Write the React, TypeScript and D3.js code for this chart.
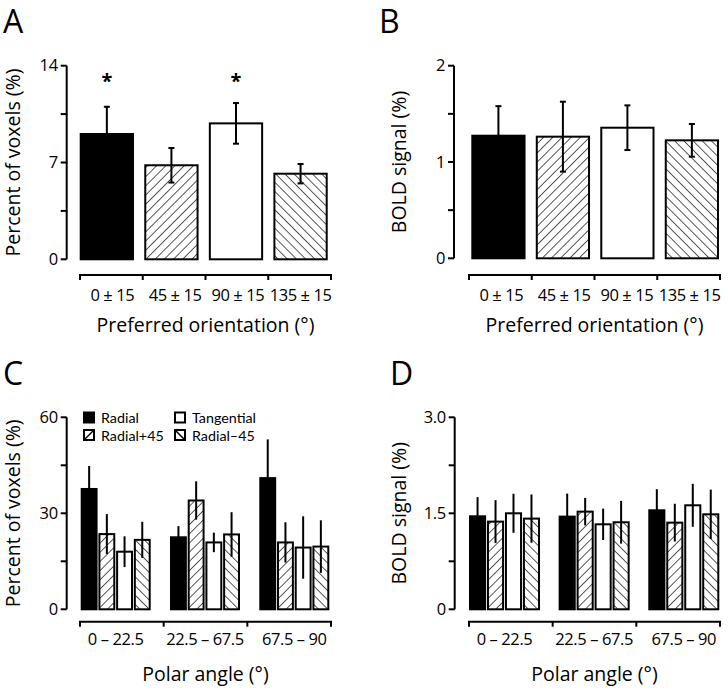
import React from "react";
import * as d3 from "d3";

// ---------- DATA ----------
const orientationCats = ["0 ± 15", "45 ± 15", "90 ± 15", "135 ± 15"];
const voxelPctByOri = [9.06, 6.8, 9.83, 6.19];
const voxelPctByOriErr = [1.97, 1.25, 1.47, 0.7];
const voxelSignificant = [true, false, true, false];
const boldByOri = [1.273, 1.263, 1.356, 1.225];
const boldByOriErr = [0.307, 0.363, 0.232, 0.17];

const polarCats = ["0 – 22.5", "22.5 – 67.5", "67.5 – 90"];
const seriesNames = ["Radial", "Radial+45", "Tangential", "Radial–45"];
const voxelPctPolar = [
  [37.6, 22.5, 41.0],
  [23.5, 34.0, 20.9],
  [18.0, 20.9, 19.3],
  [21.7, 23.4, 19.6],
];
const voxelPctPolarErr = [
  [7.2, 3.5, 12.1],
  [6.25, 6.0, 6.3],
  [4.8, 3.05, 9.75],
  [5.65, 6.95, 8.2],
];
const boldPolar = [
  [1.453, 1.448, 1.547],
  [1.37, 1.526, 1.354],
  [1.5, 1.328, 1.625],
  [1.417, 1.36, 1.484],
];
const boldPolarErr = [
  [0.3, 0.36, 0.33],
  [0.335, 0.215, 0.295],
  [0.305, 0.245, 0.336],
  [0.377, 0.334, 0.386],
];

const yTicksA = [0, 3.5, 7, 10.5, 14];
const yLabelsA = ["0", "", "7", "", "14"];
const yTicksB = [0, 0.5, 1, 1.5, 2];
const yLabelsB = ["0", "", "1", "", "2"];
const yTicksC = [0, 15, 30, 45, 60];
const yLabelsC = ["0", "", "30", "", "60"];
const yTicksD = [0, 0.75, 1.5, 2.25, 3];
const yLabelsD = ["0", "", "1.5", "", "3.0"];

// ---------- STYLE ----------
const FONT = "'Open Sans', Lato, sans-serif";
const LEGEND_FONT = "Lato, 'Open Sans', sans-serif";
const TITLE = 19.5;
const TICK = 16.5;
const fills = ["#000", "url(#hatchUp)", "#fff", "url(#hatchDown)"];

type AxisProps = {
  axisX: number;
  y0: number;
  y1: number;
  max: number;
  ticks: number[];
  labels: string[];
};

function YAxis({ axisX, y0, y1, max, ticks, labels }: AxisProps) {
  const y = d3.scaleLinear().domain([0, max]).range([y0, y1]);
  return (
    <g>
      <line x1={axisX} x2={axisX} y1={y(0)} y2={y(max)} stroke="#000" strokeWidth={2} />
      {ticks.map((t, i) => (
        <g key={i}>
          <line x1={axisX - 6} x2={axisX} y1={y(t)} y2={y(t)} stroke="#000" strokeWidth={2} />
          {labels[i] && (
            <text x={axisX - 9} y={y(t)} dy="0.35em" textAnchor="end" fontSize={TICK} fontFamily={FONT} letterSpacing={-0.4}>
              {labels[i]}
            </text>
          )}
        </g>
      ))}
    </g>
  );
}

function XAxisLine({ x0, x1, yPos, n }: { x0: number; x1: number; yPos: number; n: number }) {
  const s = d3.scaleLinear().domain([0, n]).range([x0, x1]);
  return (
    <g>
      <line x1={x0 - 1} x2={x1 + 1} y1={yPos} y2={yPos} stroke="#000" strokeWidth={2} />
      {d3.range(n + 1).map((i) => (
        <line key={i} x1={s(i)} x2={s(i)} y1={yPos} y2={yPos + 5} stroke="#000" strokeWidth={2} />
      ))}
    </g>
  );
}

function OrientationPanel(props: {
  letter: string;
  letterX: number;
  axisX: number;
  y0: number;
  y1: number;
  max: number;
  ticks: number[];
  labels: string[];
  values: number[];
  errs: number[];
  sig?: boolean[];
  barRange: [number, number];
  xAxis: [number, number];
  xAxisY: number;
  yLabel: string;
  yLabelX: number;
}) {
  const { values, errs, sig, barRange, xAxis, xAxisY, y0, y1, max } = props;
  const y = d3.scaleLinear().domain([0, max]).range([y0, y1]);
  const xb = d3.scaleBand<string>().domain(orientationCats).range(barRange).paddingInner(0.19);
  const xl = d3.scaleBand<string>().domain(orientationCats).range(xAxis);
  const midY = (y0 + y1) / 2;
  return (
    <g>
      <text x={props.letterX} y={33} fontSize={32} fontFamily={FONT}>{props.letter}</text>
      <YAxis axisX={props.axisX} y0={y0} y1={y1} max={max} ticks={props.ticks} labels={props.labels} />
      {orientationCats.map((c, i) => {
        const bx = xb(c)!;
        const bw = xb.bandwidth();
        const cx = bx + bw / 2;
        return (
          <g key={c}>
            <rect x={bx} y={y(values[i])} width={bw} height={y(0) - y(values[i])} fill={fills[i]} stroke="#000" strokeWidth={2} />
            <line x1={cx} x2={cx} y1={y(values[i] - errs[i])} y2={y(values[i] + errs[i])} stroke="#000" strokeWidth={2} />
            <line x1={cx - 3} x2={cx + 3} y1={y(values[i] + errs[i])} y2={y(values[i] + errs[i])} stroke="#000" strokeWidth={2} />
            <line x1={cx - 3} x2={cx + 3} y1={y(values[i] - errs[i])} y2={y(values[i] - errs[i])} stroke="#000" strokeWidth={2} />
            {sig && sig[i] && (
              <text x={cx} y={87.5} textAnchor="middle" fontSize={20} fontWeight="bold" fontFamily={FONT}>*</text>
            )}
          </g>
        );
      })}
      <XAxisLine x0={xAxis[0]} x1={xAxis[1]} yPos={xAxisY} n={orientationCats.length} />
      {orientationCats.map((c) => (
        <text key={c} x={xl(c)! + xl.bandwidth() / 2 + 1} y={301} textAnchor="middle" fontSize={TICK} fontFamily={FONT} letterSpacing={-0.4}>
          {c}
        </text>
      ))}
      <text x={(xAxis[0] + xAxis[1]) / 2} y={332} textAnchor="middle" fontSize={TITLE} fontFamily={FONT}>
        Preferred orientation (°)
      </text>
      <text transform={`translate(${props.yLabelX},${midY}) rotate(-90)`} textAnchor="middle" fontSize={TITLE} fontFamily={FONT}>
        {props.yLabel}
      </text>
    </g>
  );
}

function PolarPanel(props: {
  letter: string;
  letterX: number;
  axisX: number;
  y0: number;
  y1: number;
  max: number;
  ticks: number[];
  labels: string[];
  values: number[][];
  errs: number[][];
  groupRange: [number, number];
  groupPad: number;
  xAxis: [number, number];
  xAxisY: number;
  yLabel: string;
  yLabelX: number;
  legend?: boolean;
}) {
  const { values, errs, groupRange, xAxis, xAxisY, y0, y1, max } = props;
  const y = d3.scaleLinear().domain([0, max]).range([y0, y1]);
  const xg = d3.scaleBand<string>().domain(polarCats).range(groupRange).paddingInner(props.groupPad);
  const xs = d3.scaleBand<string>().domain(seriesNames).range([0, xg.bandwidth()]).paddingInner(0.16);
  const midY = (y0 + y1) / 2;
  return (
    <g>
      <text x={props.letterX} y={385} fontSize={32} fontFamily={FONT}>{props.letter}</text>
      <YAxis axisX={props.axisX} y0={y0} y1={y1} max={max} ticks={props.ticks} labels={props.labels} />
      {polarCats.map((g, gi) => (
        <g key={g} transform={`translate(${xg(g)},0)`}>
          {seriesNames.map((s, si) => {
            const v = values[si][gi];
            const e = errs[si][gi];
            const bx = xs(s)!;
            const bw = xs.bandwidth();
            const cx = bx + bw / 2;
            return (
              <g key={s}>
                <rect x={bx} y={y(v)} width={bw} height={y(0) - y(v)} fill={fills[si]} stroke="#000" strokeWidth={2} />
                <line x1={cx} x2={cx} y1={y(v - e)} y2={y(v + e)} stroke="#000" strokeWidth={2} />
              </g>
            );
          })}
        </g>
      ))}
      <XAxisLine x0={xAxis[0]} x1={xAxis[1]} yPos={xAxisY} n={polarCats.length} />
      {polarCats.map((g) => (
        <text key={g} x={xg(g)! + xg.bandwidth() / 2} y={645} textAnchor="middle" fontSize={TICK} fontFamily={FONT} letterSpacing={-0.4}>
          {g}
        </text>
      ))}
      <text x={(xAxis[0] + xAxis[1]) / 2} y={681} textAnchor="middle" fontSize={TITLE} fontFamily={FONT}>
        Polar angle (°)
      </text>
      <text transform={`translate(${props.yLabelX},${midY}) rotate(-90)`} textAnchor="middle" fontSize={TITLE} fontFamily={FONT}>
        {props.yLabel}
      </text>
      {props.legend && (
        <g>
          {seriesNames.map((s, si) => {
            const col = si === 0 || si === 1 ? 0 : 1;
            const row = si === 0 || si === 2 ? 0 : 1;
            const lx = 84 + col * 91;
            const ly = 412.5 + row * 17.5;
            return (
              <g key={s}>
                <rect x={lx} y={ly} width={10} height={10} fill={si === 0 ? "#000" : "#fff"} stroke="#000" strokeWidth={2} />
                {si === 1 && <line x1={lx} y1={ly + 10} x2={lx + 10} y2={ly} stroke="#000" strokeWidth={1.5} />}
                {si === 3 && <line x1={lx} y1={ly} x2={lx + 10} y2={ly + 10} stroke="#000" strokeWidth={1.5} />}
                <text x={lx + 17} y={ly + 10.5} fontSize={14.3} fontFamily={LEGEND_FONT}>{s}</text>
              </g>
            );
          })}
        </g>
      )}
    </g>
  );
}

export default function App() {
  return (
    <svg width={728} height={690} style={{ position: "absolute", left: 0, top: 0, background: "#fff" }}>
      <defs>
        <pattern id="hatchUp" patternUnits="userSpaceOnUse" width={6.5} height={6.5} patternTransform="rotate(45)">
          <line x1={0} y1={0} x2={0} y2={6.5} stroke="#000" strokeWidth={1.3} />
        </pattern>
        <pattern id="hatchDown" patternUnits="userSpaceOnUse" width={6.5} height={6.5} patternTransform="rotate(-45)">
          <line x1={0} y1={0} x2={0} y2={6.5} stroke="#000" strokeWidth={1.3} />
        </pattern>
      </defs>
      <rect width={728} height={690} fill="#fff" />
      <OrientationPanel
        letter="A" letterX={3} axisX={66.7} y0={259.3} y1={65.7} max={14}
        ticks={yTicksA} labels={yLabelsA} values={voxelPctByOri} errs={voxelPctByOriErr} sig={voxelSignificant}
        barRange={[80.7, 326.7]} xAxis={[80, 331]} xAxisY={275}
        yLabel="Percent of voxels (%)" yLabelX={20}
      />
      <OrientationPanel
        letter="B" letterX={379} axisX={454} y0={258.3} y1={65.7} max={2}
        ticks={yTicksB} labels={yLabelsB} values={boldByOri} errs={boldByOriErr}
        barRange={[472.3, 718]} xAxis={[469, 720]} xAxisY={275}
        yLabel="BOLD signal (%)" yLabelX={406}
      />
      <PolarPanel
        letter="C" letterX={3} axisX={66.7} y0={609.3} y1={417.3} max={60}
        ticks={yTicksC} labels={yLabelsC} values={voxelPctPolar} errs={voxelPctPolarErr}
        groupRange={[81.7, 328.3]} groupPad={0.2385} xAxis={[80, 331]} xAxisY={621.7}
        yLabel="Percent of voxels (%)" yLabelX={20} legend
      />
      <PolarPanel
        letter="D" letterX={390} axisX={454.7} y0={609.3} y1={417.3} max={3}
        ticks={yTicksD} labels={yLabelsD} values={boldPolar} errs={boldPolarErr}
        groupRange={[470, 718.3]} groupPad={0.23} xAxis={[469, 720]} xAxisY={621.7}
        yLabel="BOLD signal (%)" yLabelX={406}
      />
    </svg>
  );
}
